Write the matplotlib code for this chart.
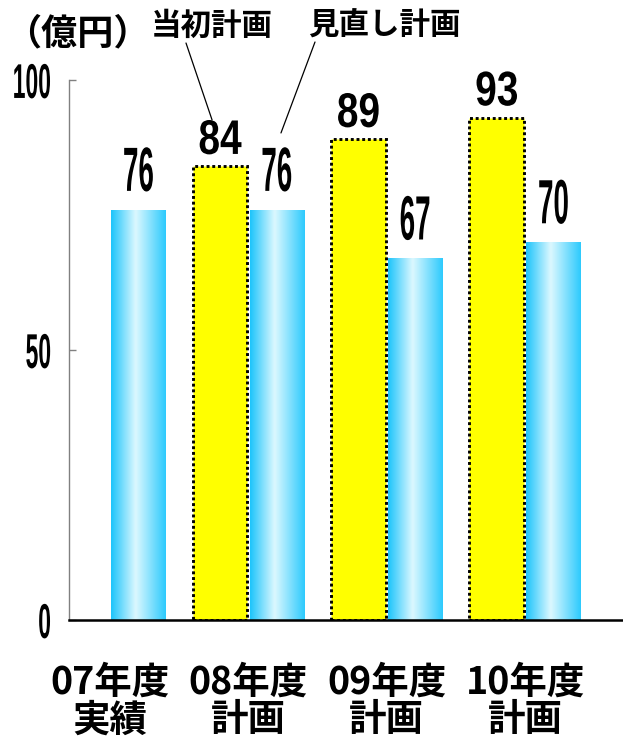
import numpy as np
import matplotlib
matplotlib.use('Agg')
import matplotlib.pyplot as plt
from matplotlib.colors import LinearSegmentedColormap
from matplotlib.patheffects import AbstractPathEffect
from matplotlib.transforms import Affine2D

# データ（億円）
categories = ['07年度\n実績', '08年度\n計画', '09年度\n計画', '10年度\n計画']
initial_plan = [None, 84, 89, 93]   # 当初計画（07年度はなし）
revised_plan = [76, 76, 67, 70]     # 見直し計画（07年度は実績）
y_ticks = [0, 50, 100]

plt.rcParams['font.family'] = ['Noto Sans CJK JP', 'DejaVu Sans']
NUM_FONT = ['Liberation Sans', 'DejaVu Sans']


class Stretch(AbstractPathEffect):
    """数字を縦長に引き伸ばして描く（縦長の数字書体の代わり）"""

    def __init__(self, sy, yanchor='baseline'):
        super().__init__()
        self.sy = sy
        self.yanchor = yanchor

    def draw_path(self, renderer, gc, tpath, affine, rgbFace=None):
        ext = tpath.get_extents()
        y0 = 0 if self.yanchor == 'baseline' else (ext.y0 + ext.y1) / 2
        st = Affine2D().translate(0, -y0).scale(1, self.sy).translate(0, y0)
        renderer.draw_path(gc, tpath, st + affine, rgbFace)


fig = plt.figure(figsize=(6.23, 7.39), dpi=100)
ax = fig.add_axes([0.1108, 0.1610, 0.8876, 0.7307])

x = np.arange(len(categories))
width = 0.395
off = 0.205

# 当初計画：黄色、点線の枠
plan_idx = [i for i, v in enumerate(initial_plan) if v is not None]
plan_vals = [initial_plan[i] for i in plan_idx]
yellow = ax.bar(x[plan_idx] - off, plan_vals, width, color='#ffff00',
                edgecolor='black', linewidth=2.1, linestyle=(0, (1, 0.95)),
                zorder=1)

# 見直し計画：水色のグラデーション
blue = ax.bar(x + off, revised_plan, width, color='none', edgecolor='none',
              zorder=1)
cyan_cmap = LinearSegmentedColormap.from_list(
    'cyan_bar', [(0.0, '#1cc4fb'), (0.45, '#dcf8ff'), (1.0, '#2ccafd')])
gradient = np.linspace(0, 1, 256).reshape(1, -1)
for rect in blue:
    im = ax.imshow(gradient, cmap=cyan_cmap, aspect='auto', zorder=1,
                   interpolation='bicubic',
                   extent=(rect.get_x(), rect.get_x() + rect.get_width(),
                           0, rect.get_height()))
    im.set_clip_path(rect)

ax.set_xlim(-0.297, 3.70)
ax.set_ylim(0, 100)

# 値ラベル
for xi, v in zip(x[plan_idx] - off, plan_vals):
    ax.annotate(f'{v}', (xi, v), xytext=(0, 9), textcoords='offset points',
                ha='center', va='baseline', fontsize=28, fontweight='bold',
                family=NUM_FONT, path_effects=[Stretch(1.25)])
for xi, v in zip(x + off, revised_plan):
    ax.annotate(f'{v}', (xi, v), xytext=(0, 13.5), textcoords='offset points',
                ha='center', va='baseline', fontsize=20, fontweight='bold',
                family=NUM_FONT, path_effects=[Stretch(2.25)])

# 軸
for side in ['top', 'right']:
    ax.spines[side].set_visible(False)
ax.spines['left'].set_color('#808080')
ax.spines['left'].set_linewidth(1.0)
ax.spines['bottom'].set_color('black')
ax.spines['bottom'].set_linewidth(1.8)
ax.spines['bottom'].set_zorder(3)

ax.set_yticks(y_ticks)
ax.tick_params(axis='y', direction='in', length=5, width=1, color='#808080',
               pad=13)
for lbl in ax.get_yticklabels():
    lbl.set_fontsize(16.5)
    lbl.set_fontweight('bold')
    lbl.set_family(NUM_FONT)
    lbl.set_path_effects([Stretch(2.13, yanchor='middle')])

ax.set_xticks(x)
ax.set_xticklabels(categories, fontsize=27, fontweight='bold', linespacing=0.94)
ax.tick_params(axis='x', length=0, pad=31)

# 単位と凡例の引き出し線
fig.text(5 / 623, 1 - 34 / 739, '（億円）', fontsize=26, fontweight='bold',
         ha='left', va='center')
fig.text(212 / 623, 1 - 26 / 739, '当初計画', fontsize=22, fontweight='bold',
         ha='center', va='center')
fig.text(384 / 623, 1 - 26 / 739, '見直し計画', fontsize=22, fontweight='bold',
         ha='center', va='center')

ax.annotate('', xy=(1 - off - 0.058, plan_vals[0] + 8.6),
            xytext=(186 / 623, 1 - 43 / 739), textcoords='figure fraction',
            arrowprops=dict(arrowstyle='-', color='black', lw=0.9,
                            shrinkA=0, shrinkB=0))
ax.annotate('', xy=(1 + off + 0.03, revised_plan[1] + 14.2),
            xytext=(315 / 623, 1 - 42 / 739), textcoords='figure fraction',
            arrowprops=dict(arrowstyle='-', color='black', lw=0.9,
                            shrinkA=0, shrinkB=0))

fig.savefig('out.png', dpi=100)
